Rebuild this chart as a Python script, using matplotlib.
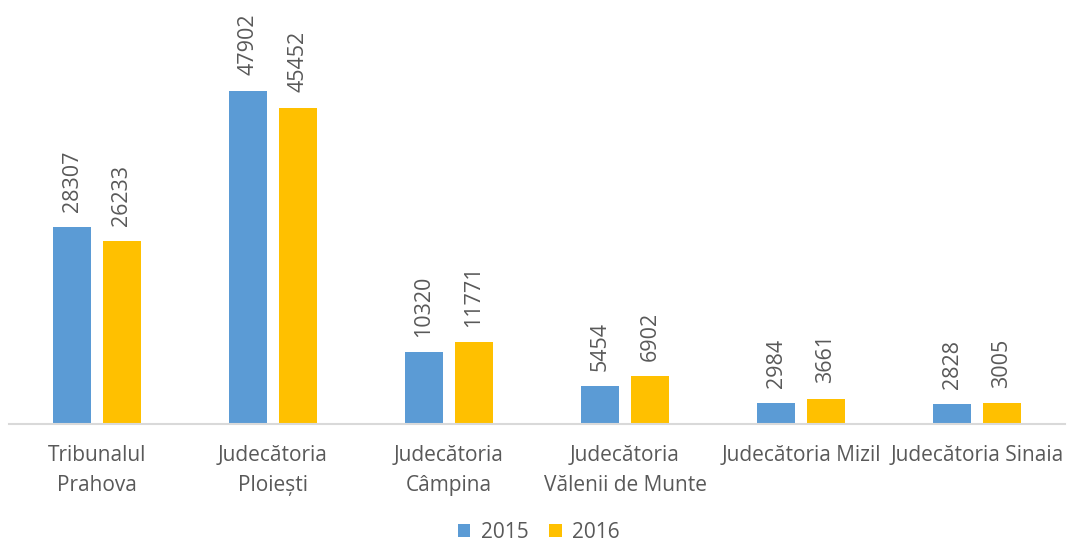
import numpy as np
import matplotlib.pyplot as plt

# Data
categories = ['Tribunalul\nPrahova', 'Judecătoria\nPloiești', 'Judecătoria\nCâmpina',
              'Judecătoria\nVălenii de Munte', 'Judecătoria Mizil', 'Judecătoria Sinaia']
values_2015 = [28307, 47902, 10320, 5454, 2984, 2828]
values_2016 = [26233, 45452, 11771, 6902, 3661, 3005]
series_names = ['2015', '2016']

plt.rcParams['font.family'] = ['Open Sans', 'DejaVu Sans']
text_color = '#595959'

fig = plt.figure(figsize=(10.67, 5.46), dpi=100)
ax = fig.add_axes([9 / 1067, 122 / 546, 1056 / 1067, 414 / 546])

x = np.arange(len(categories))
w = 0.216
off = 0.142
b1 = ax.bar(x - off, values_2015, w, color='#5B9BD5', label=series_names[0])
b2 = ax.bar(x + off, values_2016, w, color='#FFC000', label=series_names[1])

for bars in (b1, b2):
    for r in bars:
        ax.annotate(str(int(r.get_height())),
                    (r.get_x() + r.get_width() / 2, r.get_height()),
                    xytext=(0, 11), textcoords='offset points',
                    rotation=90, ha='center', va='bottom',
                    fontsize=15.5, color=text_color)

ax.set_xlim(-0.5, len(categories) - 0.5)
ax.set_ylim(0, 59500)
ax.set_xticks(x)
ax.set_xticklabels(categories, fontsize=15, color=text_color, linespacing=1.55)
ax.tick_params(axis='x', length=0, pad=15)
ax.set_yticks([])
for s in ['top', 'right', 'left']:
    ax.spines[s].set_visible(False)
ax.spines['bottom'].set_color('#D9D9D9')
ax.spines['bottom'].set_linewidth(1.5)

fig.legend(loc='lower center', bbox_to_anchor=(0.505, 0.0), ncol=2, frameon=False,
           fontsize=15, labelcolor=text_color, handlelength=0.6, handleheight=0.6,
           handletextpad=0.5, columnspacing=1.0, borderaxespad=0.0, borderpad=0.15)

fig.savefig('out.png', dpi=100)
